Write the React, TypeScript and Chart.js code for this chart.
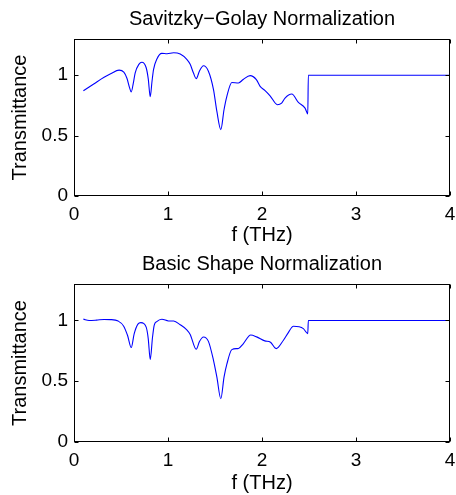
import React, { useEffect, useRef } from "react";
import { Chart, registerables } from "chart.js";

Chart.register(...registerables);

// ---- data ----
const freqTop = [
  0.10, 0.21, 0.32, 0.39, 0.48, 0.53, 0.563, 0.59, 0.609, 0.63, 0.651, 0.69, 0.722, 0.768, 0.79, 0.811,
  0.83, 0.846, 0.882, 0.934, 0.99, 1.06, 1.13, 1.2, 1.236, 1.27, 1.3, 1.335, 1.377, 1.43, 1.484, 1.52,
  1.562, 1.596, 1.626, 1.679, 1.75, 1.8, 1.874, 1.94, 1.98, 2.03, 2.086, 2.164, 2.209, 2.245, 2.317,
  2.387, 2.458, 2.487, 2.493, 4.0,
];
const transTop = [
  0.872, 0.928, 0.983, 1.012, 1.042, 1.025, 0.975, 0.9, 0.862, 0.93, 1.02, 1.09, 1.108, 1.062, 0.97, 0.822,
  0.95, 1.047, 1.135, 1.181, 1.178, 1.186, 1.175, 1.131, 1.09, 1.02, 0.972, 1.035, 1.078, 1.033, 0.881, 0.7,
  0.55, 0.714, 0.825, 0.94, 0.936, 0.965, 0.997, 0.964, 0.908, 0.875, 0.83, 0.756, 0.769, 0.811, 0.844,
  0.775, 0.728, 0.68, 1.0, 1.0,
];
const freqBottom = [
  0.10, 0.16, 0.24, 0.32, 0.39, 0.47, 0.527, 0.57, 0.609, 0.64, 0.68, 0.712, 0.768, 0.79, 0.811, 0.835,
  0.853, 0.88, 0.935, 1.005, 1.06, 1.13, 1.2, 1.236, 1.3, 1.335, 1.377, 1.43, 1.484, 1.52, 1.562, 1.596,
  1.626, 1.679, 1.75, 1.8, 1.88, 1.943, 2.03, 2.09, 2.15, 2.228, 2.28, 2.334, 2.44, 2.487, 2.493, 4.0,
];
const transBottom = [
  1.011, 1.0, 1.003, 1.008, 1.007, 0.995, 0.955, 0.876, 0.777, 0.89, 0.97, 0.982, 0.945, 0.849, 0.678, 0.86,
  0.96, 0.99, 1.01, 0.996, 0.995, 0.965, 0.923, 0.885, 0.763, 0.827, 0.864, 0.828, 0.672, 0.533, 0.356, 0.533,
  0.64, 0.76, 0.77, 0.808, 0.88, 0.865, 0.832, 0.821, 0.768, 0.837, 0.9, 0.952, 0.933, 0.892, 1.0, 1.0,
];
const xTicks = [0, 1, 2, 3, 4];
const yTicks = [0, 0.5, 1];
const titleTop = "Savitzky\u2212Golay Normalization";
const titleBottom = "Basic Shape Normalization";
const xLabel = "f (THz)";
const yLabel = "Transmittance";

const FONT = "'Liberation Sans', Arial, Helvetica, sans-serif";

function framePlugin(title: string, xLabelOffset: number) {
  return {
    id: "frameAndTexts",
    afterDraw(chart: any) {
      const { ctx, chartArea: a, scales } = chart;
      const xs = scales.x;
      const ys = scales.y;
      const L = Math.round(a.left) + 0.5;
      const R = Math.round(a.right) - 0.5;
      const T = Math.round(a.top) + 0.5;
      const B = Math.round(a.bottom) - 0.5;
      ctx.save();
      ctx.strokeStyle = "#000";
      ctx.lineWidth = 1;
      ctx.strokeRect(L, T, R - L, B - T);
      const tl = 4;
      ctx.beginPath();
      xTicks.forEach((v) => {
        const px = Math.round(xs.getPixelForValue(v)) + 0.5;
        ctx.moveTo(px, B);
        ctx.lineTo(px, B - tl);
        ctx.moveTo(px, T);
        ctx.lineTo(px, T + tl);
      });
      yTicks.forEach((v) => {
        const py = Math.round(ys.getPixelForValue(v)) + 0.5;
        ctx.moveTo(L, py);
        ctx.lineTo(L + tl, py);
        ctx.moveTo(R, py);
        ctx.lineTo(R - tl, py);
      });
      ctx.stroke();

      ctx.fillStyle = "#000";
      ctx.textAlign = "center";
      ctx.textBaseline = "middle";
      ctx.font = `20px ${FONT}`;
      ctx.fillText(title, (a.left + a.right) / 2, a.top - 20);
      ctx.fillText(xLabel, (a.left + a.right) / 2, a.bottom + xLabelOffset);
      ctx.translate(20, (a.top + a.bottom) / 2);
      ctx.rotate(-Math.PI / 2);
      ctx.fillText(yLabel, 0, 0);
      ctx.restore();
    },
  };
}

function makeConfig(
  freq: number[],
  trans: number[],
  title: string,
  padTop: number,
  xHeight: number,
  xLabelOffset: number
) {
  const tickFont = { size: 19, family: FONT };
  return {
    type: "line" as const,
    data: {
      datasets: [
        {
          data: freq.map((f, i) => ({ x: f, y: trans[i] })),
          borderColor: "#0000ff",
          borderWidth: 1.1,
          pointRadius: 0,
          fill: false,
          cubicInterpolationMode: "monotone" as const,
        },
      ],
    },
    options: {
      responsive: false,
      animation: false as const,
      layout: { padding: { left: 0, right: 6, top: padTop, bottom: 0 } },
      plugins: { legend: { display: false }, tooltip: { enabled: false }, title: { display: false } },
      scales: {
        x: {
          type: "linear" as const,
          min: 0,
          max: 4,
          grid: { display: false, drawTicks: false },
          border: { display: false },
          afterBuildTicks: (s: any) => {
            s.ticks = xTicks.map((v) => ({ value: v }));
          },
          afterFit: (s: any) => {
            s.height = xHeight;
            s.paddingLeft = 0;
            s.paddingRight = 0;
          },
          ticks: {
            font: tickFont,
            color: "#000",
            padding: 7,
            maxRotation: 0,
            autoSkip: false,
            callback: (v: any) => String(v),
          },
        },
        y: {
          type: "linear" as const,
          min: 0,
          max: 1.3,
          grid: { display: false, drawTicks: false },
          border: { display: false },
          afterBuildTicks: (s: any) => {
            s.ticks = yTicks.map((v) => ({ value: v }));
          },
          afterFit: (s: any) => {
            s.width = 74;
            s.paddingTop = 0;
            s.paddingBottom = 0;
          },
          ticks: {
            font: tickFont,
            color: "#000",
            padding: 6,
            callback: (v: any) => String(v),
          },
        },
      },
    },
    plugins: [framePlugin(title, xLabelOffset)],
  };
}

export default function App() {
  const topRef = useRef<HTMLCanvasElement>(null);
  const botRef = useRef<HTMLCanvasElement>(null);

  useEffect(() => {
    const c1 = new Chart(
      topRef.current as HTMLCanvasElement,
      makeConfig(freqTop, transTop, titleTop, 39, 52, 39) as any
    );
    const c2 = new Chart(
      botRef.current as HTMLCanvasElement,
      makeConfig(freqBottom, transBottom, titleBottom, 36, 53, 41) as any
    );
    return () => {
      c1.destroy();
      c2.destroy();
    };
  }, []);

  return (
    <div style={{ position: "absolute", left: 0, top: 0, width: 456, height: 495, background: "#fff" }}>
      <canvas ref={topRef} width={456} height={248} style={{ position: "absolute", left: 0, top: 0 }} />
      <canvas ref={botRef} width={456} height={247} style={{ position: "absolute", left: 0, top: 248 }} />
    </div>
  );
}
